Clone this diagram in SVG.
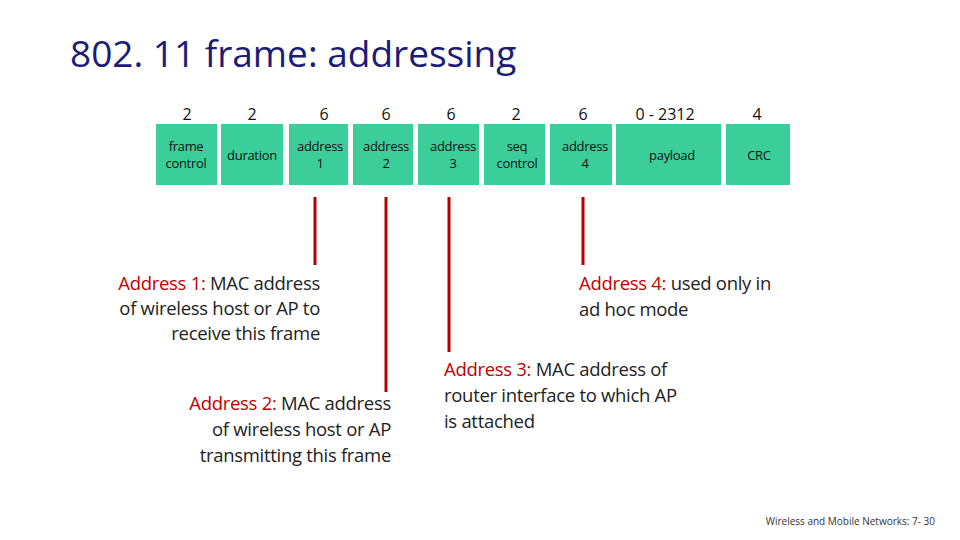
<svg xmlns="http://www.w3.org/2000/svg" width="960" height="540" viewBox="0 0 960 540">
<style>
.b{fill:#3cce9a}
.t{font-family:"Open Sans","Liberation Sans",sans-serif;font-size:13px;fill:#111;text-anchor:middle;letter-spacing:-0.3px}
.n{font-family:"Open Sans","Liberation Sans",sans-serif;font-size:16px;fill:#111;text-anchor:middle}
.d{font-family:"Open Sans","Liberation Sans",sans-serif;font-size:18.5px;fill:#222;letter-spacing:-0.3px}
.r{fill:#c00000}
.l{stroke:#b00000;stroke-width:3}
</style>
<rect width="960" height="540" fill="#fff"/>
<text x="70" y="67" style="font-family:'Open Sans','Liberation Sans',sans-serif;font-size:37px;fill:#1b1b78">802. 11 frame: addressing</text>
<g id="sizes" class="n">
<text x="187" y="120">2</text><text x="252" y="120">2</text><text x="324" y="120">6</text><text x="386" y="120">6</text><text x="451" y="120">6</text><text x="516" y="120">2</text><text x="583" y="120">6</text><text x="665" y="120">0 - 2312</text><text x="757" y="120">4</text>
</g>
<g id="fields">
<g id="f1"><rect class="b" x="156" y="124" width="61" height="61"/><text class="t" x="186" y="151">frame</text><text class="t" x="186" y="168">control</text></g>
<g id="f2"><rect class="b" x="221" y="124" width="62" height="61"/><text class="t" x="252" y="160">duration</text></g>
<g id="f3"><rect class="b" x="289" y="124" width="59" height="61"/><text class="t" x="320" y="151">address</text><text class="t" x="320" y="168">1</text></g>
<g id="f4"><rect class="b" x="353" y="124" width="60" height="61"/><text class="t" x="386" y="151">address</text><text class="t" x="386" y="168">2</text></g>
<g id="f5"><rect class="b" x="418" y="124" width="61" height="61"/><text class="t" x="453" y="151">address</text><text class="t" x="453" y="168">3</text></g>
<g id="f6"><rect class="b" x="484" y="124" width="61" height="61"/><text class="t" x="517" y="151">seq</text><text class="t" x="517" y="168">control</text></g>
<g id="f7"><rect class="b" x="550" y="124" width="62" height="61"/><text class="t" x="585" y="151">address</text><text class="t" x="585" y="168">4</text></g>
<g id="f8"><rect class="b" x="616" y="124" width="105" height="61"/><text class="t" x="672" y="160">payload</text></g>
<g id="f9"><rect class="b" x="726" y="124" width="64" height="61"/><text class="t" x="759" y="160">CRC</text></g>
</g>
<g id="connectors" class="l">
<line x1="315" y1="197" x2="315" y2="265"/>
<line x1="386" y1="197" x2="386" y2="392"/>
<line x1="449" y1="197" x2="449" y2="352"/>
<line x1="583" y1="197" x2="583" y2="265"/>
</g>
<g id="a1" class="d" text-anchor="end">
<text x="320" y="290"><tspan class="r">Address 1:</tspan> MAC address</text>
<text x="320" y="315">of wireless host or AP  to</text>
<text x="320" y="340">receive this frame</text>
</g>
<g id="a2" class="d" text-anchor="end">
<text x="391" y="410"><tspan class="r">Address 2:</tspan> MAC address</text>
<text x="391" y="436">of wireless host or AP</text>
<text x="391" y="462">transmitting this frame</text>
</g>
<g id="a3" class="d">
<text x="444" y="376"><tspan class="r">Address 3:</tspan> MAC address of</text>
<text x="444" y="402">router interface to which AP</text>
<text x="444" y="428">is attached</text>
</g>
<g id="a4" class="d">
<text x="579" y="290"><tspan class="r">Address 4:</tspan> used only in</text>
<text x="579" y="316">ad hoc mode</text>
</g>
<text x="935" y="525" text-anchor="end" style="font-family:'Open Sans','Liberation Sans',sans-serif;font-size:10px;fill:#333">Wireless and Mobile Networks: 7- 30</text>
</svg>
